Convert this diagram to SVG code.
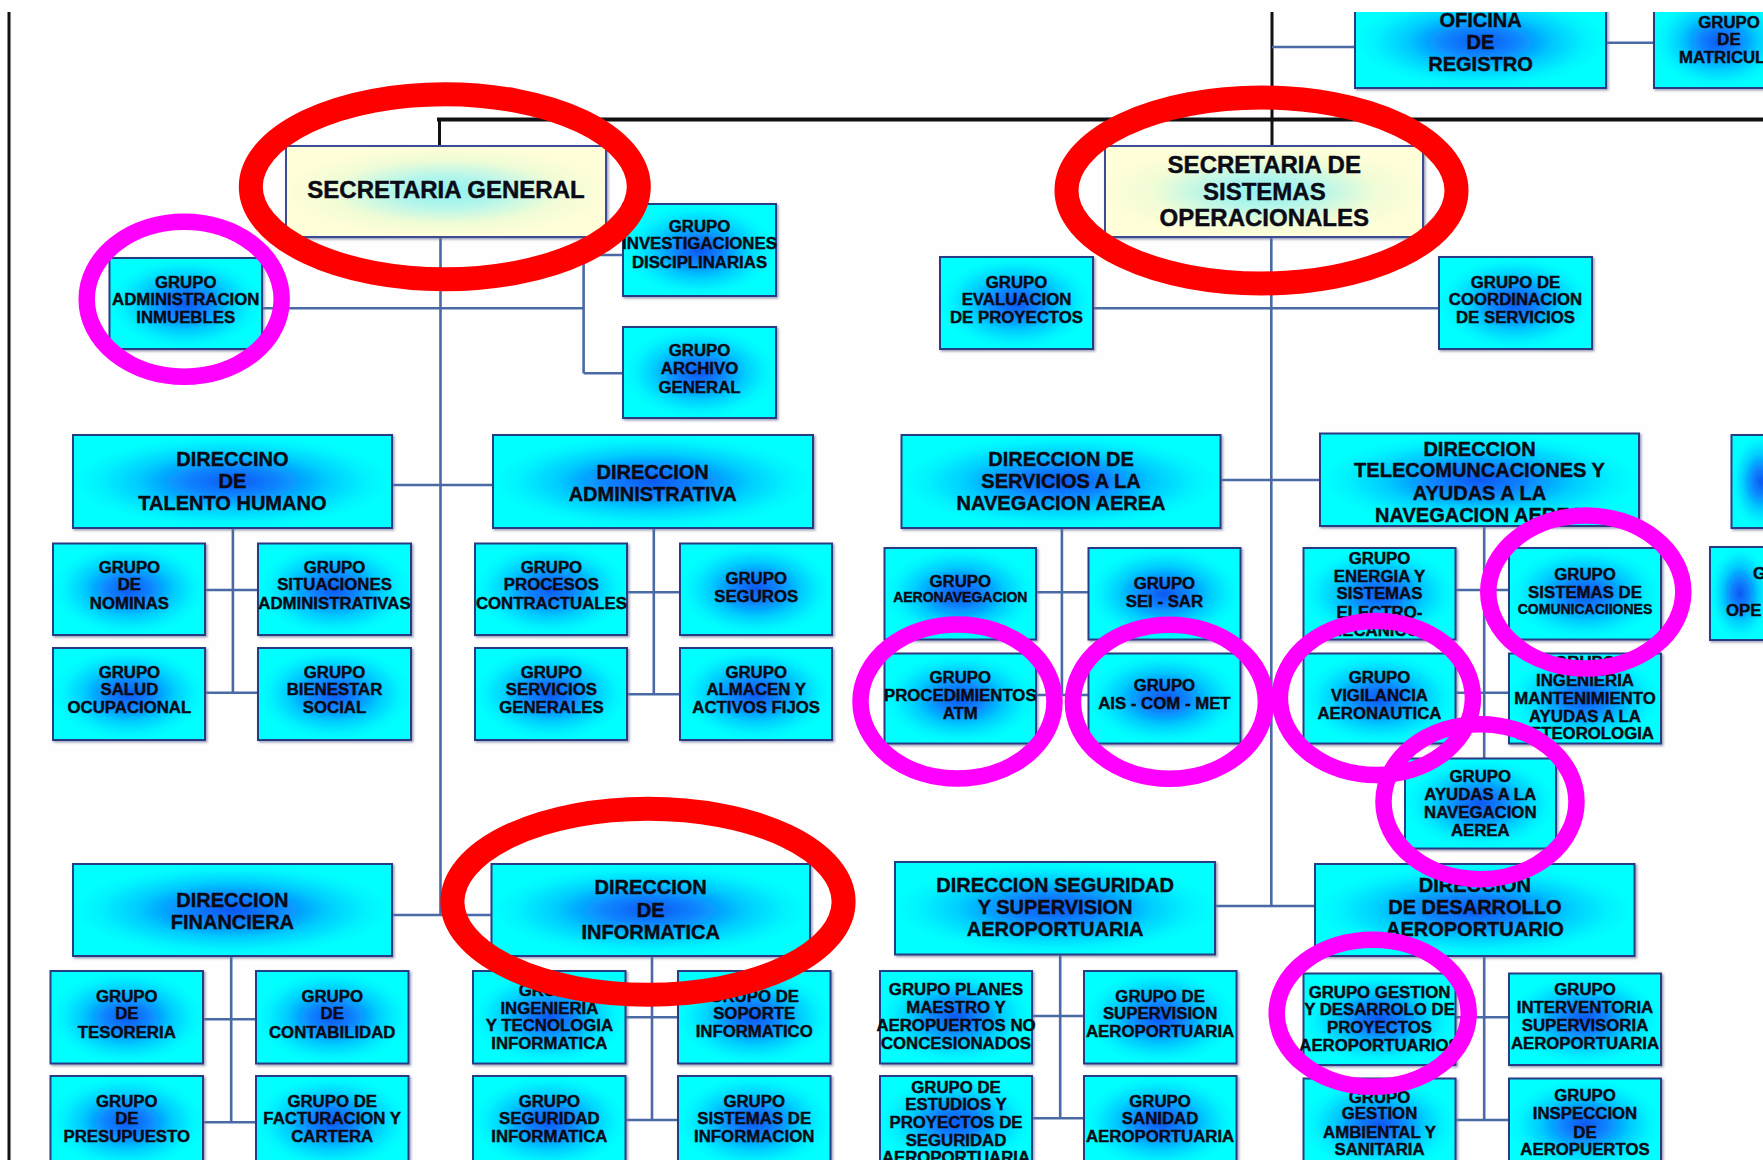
<svg xmlns="http://www.w3.org/2000/svg" width="1763" height="1160" viewBox="0 0 1763 1160">
<defs>
  <radialGradient id="cyan">
    <stop offset="0" stop-color="#0a58f2"/>
    <stop offset="0.3" stop-color="#0a86ff"/>
    <stop offset="0.6" stop-color="#00cdff"/>
    <stop offset="0.85" stop-color="#00f4ff"/>
    <stop offset="1" stop-color="#00ffff"/>
  </radialGradient>
  <radialGradient id="cream">
    <stop offset="0" stop-color="#8ef0f2"/>
    <stop offset="0.35" stop-color="#b6f6ea"/>
    <stop offset="0.7" stop-color="#effcd6"/>
    <stop offset="1" stop-color="#fffed8"/>
  </radialGradient>
  <filter id="sh" x="-5%" y="-5%" width="110%" height="110%">
    <feDropShadow dx="1.5" dy="1.5" stdDeviation="0.8" flood-color="#6f7398" flood-opacity="0.7"/>
  </filter>
  <style>
    .bx { fill: url(#cyan); stroke: #283c84; stroke-width: 2; filter: url(#sh); }
    .sec { fill: url(#cream); stroke: #3a4c96; stroke-width: 2; filter: url(#sh); }
    text { font-family: "Liberation Sans", Arial, sans-serif; font-weight: bold; fill: #0b0b16; stroke: #0b0b16; stroke-width: 0.45; text-anchor: middle; }
    .g { font-size: 16.8px; }
    .sm { font-size: 14px; }
    .d { font-size: 20px; }
    .s { font-size: 24px; }
    .st { text-anchor: start; }
    .ln { stroke: #4a6aa6; stroke-width: 2.6; fill: none; }
    .blk { stroke: #111; fill: none; }
    .red { fill: none; stroke: #ff0000; stroke-width: 24; }
    .mag { fill: none; stroke: #ff00ff; stroke-width: 16.5; }
  </style>
</defs>
<rect width="1763" height="1160" fill="#fefefe"/>

<!-- black hierarchy lines -->
<g id="top-lines" class="blk">
  <line x1="9" y1="12" x2="9" y2="1160" stroke-width="3"/>
  <line x1="437" y1="119.5" x2="1763" y2="119.5" stroke-width="4"/>
  <line x1="439.5" y1="119" x2="439.5" y2="146" stroke-width="3"/>
  <line x1="1272" y1="0" x2="1272" y2="146" stroke-width="3"/>
</g>

<!-- connectors -->
<g id="connectors" class="ln">
  <path d="M1272 47H1355M1606 42.7H1654"/>
  <path d="M440.5 237V915M262 308.3H583.6M583.6 255V373.3M583.6 255H623M583.6 373.3H623"/>
  <path d="M391.7 485H492.7M232.9 527.7V692.7M205.4 590H258.1M205.4 692.7H258.1"/>
  <path d="M653.8 527.7V694.3M627.4 592.3H680.1M627.4 694.3H680.1"/>
  <path d="M391.7 915H491.6M231.2 956V1122.3M203.1 1019.3H255.9M203.1 1122.3H255.9"/>
  <path d="M652 956V1120M625.7 1017.3H677.9M625.7 1120H677.9"/>
  <path d="M1271.3 237V906M1092.8 308.3H1439M1220.6 480H1319.8"/>
  <path d="M1061.9 527.7V695M1036 592.3H1088.3M1036 695H1088.3"/>
  <path d="M1484.2 526V758.3M1455.5 590H1509M1455.5 692.7H1509"/>
  <path d="M1215 906H1315.2M1060.2 954.3V1118.3M1032 1016H1083.8M1032 1118.3H1083.8"/>
  <path d="M1484.2 956V1120M1455.5 1017.3H1509M1455.5 1120H1509"/>
</g>

<!-- top row -->
<g id="oficina-registro">
  <rect class="bx" x="1355" y="-5" width="251" height="93"/>
  <text class="d"><tspan x="1480.5" y="27.2">OFICINA</tspan><tspan x="1480.5" y="48.9">DE</tspan><tspan x="1480.5" y="70.5">REGISTRO</tspan></text>
</g>
<g id="grupo-matricula">
  <rect class="bx" x="1654" y="-5" width="130" height="93"/>
  <text class="g"><tspan x="1729" y="27.6">GRUPO</tspan><tspan x="1729" y="44.9">DE</tspan></text>
  <text class="g st" x="1679" y="62.6">MATRICUL</text>
</g>

<!-- secretarias -->
<g id="secretaria-general">
  <rect class="sec" x="286" y="146" width="320" height="91"/>
  <text class="s" x="446" y="198.3">SECRETARIA GENERAL</text>
</g>
<g id="secretaria-sistemas">
  <rect class="sec" x="1105" y="146" width="318" height="91"/>
  <text class="s"><tspan x="1264.3" y="172.9">SECRETARIA DE</tspan><tspan x="1264.3" y="199.6">SISTEMAS</tspan><tspan x="1264.3" y="226.3">OPERACIONALES</tspan></text>
</g>

<g id="grupo-investigaciones">
  <rect class="bx" x="623" y="204" width="153" height="92"/>
  <text class="g"><tspan x="699.5" y="231.9">GRUPO</tspan><tspan x="699.5" y="249.2">INVESTIGACIONES</tspan><tspan x="699.5" y="267.6">DISCIPLINARIAS</tspan></text>
</g>
<g id="grupo-archivo">
  <rect class="bx" x="623" y="327" width="153" height="91"/>
  <text class="g"><tspan x="699.5" y="355.9">GRUPO</tspan><tspan x="699.5" y="374.2">ARCHIVO</tspan><tspan x="699.5" y="392.6">GENERAL</tspan></text>
</g>
<g id="grupo-inmuebles">
  <rect class="bx" x="109.5" y="258" width="152.5" height="91"/>
  <text class="g"><tspan x="185.7" y="287.6">GRUPO</tspan><tspan x="185.7" y="305.2">ADMINISTRACION</tspan><tspan x="185.7" y="323.2">INMUEBLES</tspan></text>
</g>
<g id="grupo-evaluacion">
  <rect class="bx" x="940" y="257" width="153" height="92"/>
  <text class="g"><tspan x="1016.5" y="287.6">GRUPO</tspan><tspan x="1016.5" y="305.2">EVALUACION</tspan><tspan x="1016.5" y="322.6">DE PROYECTOS</tspan></text>
</g>
<g id="grupo-coordinacion">
  <rect class="bx" x="1439" y="257" width="153" height="92"/>
  <text class="g"><tspan x="1515.5" y="287.6">GRUPO DE</tspan><tspan x="1515.5" y="305.2">COORDINACION</tspan><tspan x="1515.5" y="322.6">DE SERVICIOS</tspan></text>
</g>

<!-- direcciones row 1 -->
<g id="dir-talento-humano">
  <rect class="bx" x="73" y="435" width="319" height="93"/>
  <text class="d"><tspan x="232.4" y="465.5">DIRECCINO</tspan><tspan x="232.4" y="488.2">DE</tspan><tspan x="232.4" y="509.9">TALENTO HUMANO</tspan></text>
</g>
<g id="dir-administrativa">
  <rect class="bx" x="493" y="435" width="320" height="93"/>
  <text class="d"><tspan x="652.7" y="478.9">DIRECCION</tspan><tspan x="652.7" y="500.5">ADMINISTRATIVA</tspan></text>
</g>
<g id="dir-servicios-navegacion">
  <rect class="bx" x="901.5" y="435" width="319" height="93"/>
  <text class="d"><tspan x="1061" y="465.5">DIRECCION DE</tspan><tspan x="1061" y="488.2">SERVICIOS A LA</tspan><tspan x="1061" y="509.9">NAVEGACION AEREA</tspan></text>
</g>
<g id="dir-telecomunicaciones">
  <rect class="bx" x="1320" y="433.5" width="319" height="92.5"/>
  <text class="d"><tspan x="1479.5" y="455.5">DIRECCION</tspan><tspan x="1479.5" y="477.2">TELECOMUNCACIONES Y</tspan><tspan x="1479.5" y="499.9">AYUDAS A LA</tspan><tspan x="1479.5" y="522.2">NAVEGACION AEREA</tspan></text>
</g>
<g id="dir-derecha">
  <rect class="bx" x="1731.5" y="435" width="60" height="93"/>
</g>

<!-- talento humano groups -->
<g id="grupo-nominas">
  <rect class="bx" x="53" y="543.5" width="152" height="91.5"/>
  <text class="g"><tspan x="129.4" y="572.6">GRUPO</tspan><tspan x="129.4" y="590.2">DE</tspan><tspan x="129.4" y="608.6">NOMINAS</tspan></text>
</g>
<g id="grupo-situaciones">
  <rect class="bx" x="258" y="543.5" width="153" height="91.5"/>
  <text class="g"><tspan x="334.5" y="572.6">GRUPO</tspan><tspan x="334.5" y="590.2">SITUACIONES</tspan><tspan x="334.5" y="608.6">ADMINISTRATIVAS</tspan></text>
</g>
<g id="grupo-salud">
  <rect class="bx" x="53" y="648" width="152" height="92"/>
  <text class="g"><tspan x="129.4" y="677.6">GRUPO</tspan><tspan x="129.4" y="695.2">SALUD</tspan><tspan x="129.4" y="713.2">OCUPACIONAL</tspan></text>
</g>
<g id="grupo-bienestar">
  <rect class="bx" x="258" y="648" width="153" height="92"/>
  <text class="g"><tspan x="334.5" y="677.6">GRUPO</tspan><tspan x="334.5" y="695.2">BIENESTAR</tspan><tspan x="334.5" y="713.2">SOCIAL</tspan></text>
</g>

<!-- administrativa groups -->
<g id="grupo-procesos">
  <rect class="bx" x="475" y="543.5" width="152" height="91.5"/>
  <text class="g"><tspan x="551.4" y="572.6">GRUPO</tspan><tspan x="551.4" y="590.2">PROCESOS</tspan><tspan x="551.4" y="608.6">CONTRACTUALES</tspan></text>
</g>
<g id="grupo-seguros">
  <rect class="bx" x="680" y="543.5" width="152" height="91.5"/>
  <text class="g"><tspan x="756.2" y="584.2">GRUPO</tspan><tspan x="756.2" y="601.9">SEGUROS</tspan></text>
</g>
<g id="grupo-servicios-generales">
  <rect class="bx" x="475" y="648" width="152" height="92"/>
  <text class="g"><tspan x="551.4" y="677.6">GRUPO</tspan><tspan x="551.4" y="695.2">SERVICIOS</tspan><tspan x="551.4" y="713.2">GENERALES</tspan></text>
</g>
<g id="grupo-almacen">
  <rect class="bx" x="680" y="648" width="152" height="92"/>
  <text class="g"><tspan x="756.2" y="677.6">GRUPO</tspan><tspan x="756.2" y="695.2">ALMACEN Y</tspan><tspan x="756.2" y="713.2">ACTIVOS FIJOS</tspan></text>
</g>

<!-- navegacion groups -->
<g id="grupo-aeronavegacion">
  <rect class="bx" x="884.5" y="548" width="151.5" height="91.5"/>
  <text class="g" x="960.3" y="586.6">GRUPO</text>
  <text class="sm" x="960.3" y="601.7">AERONAVEGACION</text>
</g>
<g id="grupo-sei-sar">
  <rect class="bx" x="1088.5" y="548" width="152" height="91.5"/>
  <text class="g"><tspan x="1164.4" y="589.2">GRUPO</tspan><tspan x="1164.4" y="606.9">SEI - SAR</tspan></text>
</g>
<g id="grupo-procedimientos">
  <rect class="bx" x="884.5" y="653.5" width="151.5" height="90"/>
  <text class="g"><tspan x="960.3" y="682.6">GRUPO</tspan><tspan x="960.3" y="700.9">PROCEDIMIENTOS</tspan><tspan x="960.3" y="718.6">ATM</tspan></text>
</g>
<g id="grupo-ais">
  <rect class="bx" x="1088.5" y="653.5" width="152" height="90"/>
  <text class="g"><tspan x="1164.4" y="690.9">GRUPO</tspan><tspan x="1164.4" y="709.2">AIS - COM - MET</tspan></text>
</g>

<!-- telecomunicaciones groups -->
<g id="grupo-energia">
  <rect class="bx" x="1303.5" y="548" width="152" height="91.5"/>
  <text class="g"><tspan x="1379.5" y="563.6">GRUPO</tspan><tspan x="1379.5" y="581.6">ENERGIA Y</tspan><tspan x="1379.5" y="599.2">SISTEMAS</tspan><tspan x="1379.5" y="617.6">ELECTRO-</tspan><tspan x="1379.5" y="635.9">MECANICOS</tspan></text>
</g>
<g id="grupo-comunicaciones">
  <rect class="bx" x="1509" y="548" width="152" height="91.5"/>
  <text class="g"><tspan x="1585" y="579.9">GRUPO</tspan><tspan x="1585" y="597.6">SISTEMAS DE</tspan></text>
  <text class="sm" x="1585" y="613.5" font-size="14.5">COMUNICACIIONES</text>
</g>
<g id="grupo-vigilancia">
  <rect class="bx" x="1303.5" y="653.5" width="152" height="90"/>
  <text class="g"><tspan x="1379.5" y="682.6">GRUPO</tspan><tspan x="1379.5" y="700.9">VIGILANCIA</tspan><tspan x="1379.5" y="718.6">AERONAUTICA</tspan></text>
</g>
<g id="grupo-ingenieria-mantenimiento">
  <rect class="bx" x="1509" y="653.5" width="152" height="90"/>
  <text class="g"><tspan x="1585" y="667.6">GRUPO</tspan><tspan x="1585" y="685.9">INGENIERIA</tspan><tspan x="1585" y="703.6">MANTENIMIENTO</tspan><tspan x="1585" y="721.9">AYUDAS A LA</tspan><tspan x="1585" y="739.2">METEOROLOGIA</tspan></text>
</g>
<g id="grupo-derecha">
  <rect class="bx" x="1710" y="547" width="60" height="93"/>
  <text class="g st" x="1753" y="579.2">G</text>
  <text class="g st" x="1726" y="615.9">OPE</text>
</g>
<g id="grupo-ayudas">
  <rect class="bx" x="1405" y="758.5" width="151" height="90"/>
  <text class="g"><tspan x="1480.3" y="781.9">GRUPO</tspan><tspan x="1480.3" y="799.9">AYUDAS A LA</tspan><tspan x="1480.3" y="817.9">NAVEGACION</tspan><tspan x="1480.3" y="835.9">AEREA</tspan></text>
</g>

<!-- direcciones row 2 -->
<g id="dir-financiera">
  <rect class="bx" x="73" y="864" width="319" height="92"/>
  <text class="d"><tspan x="232.4" y="907.2">DIRECCION</tspan><tspan x="232.4" y="928.9">FINANCIERA</tspan></text>
</g>
<g id="dir-informatica">
  <rect class="bx" x="491.5" y="864" width="318.5" height="92"/>
  <text class="d"><tspan x="650.7" y="893.9">DIRECCION</tspan><tspan x="650.7" y="917.2">DE</tspan><tspan x="650.7" y="938.9">INFORMATICA</tspan></text>
</g>
<g id="dir-seguridad-supervision">
  <rect class="bx" x="895" y="862" width="320" height="92.5"/>
  <text class="d"><tspan x="1055.1" y="892.2">DIRECCION SEGURIDAD</tspan><tspan x="1055.1" y="913.9">Y SUPERVISION</tspan><tspan x="1055.1" y="935.5">AEROPORTUARIA</tspan></text>
</g>
<g id="dir-desarrollo">
  <rect class="bx" x="1315" y="864" width="319.5" height="92"/>
  <text class="d"><tspan x="1474.9" y="892.2">DIRECCION</tspan><tspan x="1474.9" y="913.9">DE DESARROLLO</tspan><tspan x="1474.9" y="935.5">AEROPORTUARIO</tspan></text>
</g>

<!-- financiera groups -->
<g id="grupo-tesoreria">
  <rect class="bx" x="50.5" y="971" width="152.5" height="92.5"/>
  <text class="g"><tspan x="126.8" y="1001.9">GRUPO</tspan><tspan x="126.8" y="1019.2">DE</tspan><tspan x="126.8" y="1037.6">TESORERIA</tspan></text>
</g>
<g id="grupo-contabilidad">
  <rect class="bx" x="256" y="971" width="152.5" height="92.5"/>
  <text class="g"><tspan x="332.2" y="1001.9">GRUPO</tspan><tspan x="332.2" y="1019.2">DE</tspan><tspan x="332.2" y="1037.6">CONTABILIDAD</tspan></text>
</g>
<g id="grupo-presupuesto">
  <rect class="bx" x="50.5" y="1076" width="152.5" height="92"/>
  <text class="g"><tspan x="126.8" y="1106.6">GRUPO</tspan><tspan x="126.8" y="1124.2">DE</tspan><tspan x="126.8" y="1141.9">PRESUPUESTO</tspan></text>
</g>
<g id="grupo-facturacion">
  <rect class="bx" x="256" y="1076" width="152.5" height="92"/>
  <text class="g"><tspan x="332.2" y="1106.6">GRUPO DE</tspan><tspan x="332.2" y="1124.2">FACTURACION Y</tspan><tspan x="332.2" y="1141.9">CARTERA</tspan></text>
</g>

<!-- informatica groups -->
<g id="grupo-ingenieria-tecnologia">
  <rect class="bx" x="473" y="971" width="152.5" height="92.5"/>
  <text class="g"><tspan x="549.4" y="995.9">GRUPO</tspan><tspan x="549.4" y="1013.6">INGENIERIA</tspan><tspan x="549.4" y="1030.9">Y TECNOLOGIA</tspan><tspan x="549.4" y="1048.6">INFORMATICA</tspan></text>
</g>
<g id="grupo-soporte">
  <rect class="bx" x="678" y="971" width="152.5" height="92.5"/>
  <text class="g"><tspan x="754.2" y="1001.9">GRUPO DE</tspan><tspan x="754.2" y="1019.2">SOPORTE</tspan><tspan x="754.2" y="1036.6">INFORMATICO</tspan></text>
</g>
<g id="grupo-seguridad-informatica">
  <rect class="bx" x="473" y="1076" width="152.5" height="92"/>
  <text class="g"><tspan x="549.4" y="1106.6">GRUPO</tspan><tspan x="549.4" y="1124.2">SEGURIDAD</tspan><tspan x="549.4" y="1141.9">INFORMATICA</tspan></text>
</g>
<g id="grupo-sistemas-informacion">
  <rect class="bx" x="678" y="1076" width="152.5" height="92"/>
  <text class="g"><tspan x="754.2" y="1106.6">GRUPO</tspan><tspan x="754.2" y="1124.2">SISTEMAS DE</tspan><tspan x="754.2" y="1141.9">INFORMACION</tspan></text>
</g>

<!-- seguridad y supervision groups -->
<g id="grupo-planes">
  <rect class="bx" x="880" y="971" width="152" height="92.5"/>
  <text class="g"><tspan x="956" y="995.2">GRUPO PLANES</tspan><tspan x="956" y="1013.2">MAESTRO Y</tspan><tspan x="956" y="1030.9">AEROPUERTOS NO</tspan><tspan x="956" y="1049.2">CONCESIONADOS</tspan></text>
</g>
<g id="grupo-supervision">
  <rect class="bx" x="1084" y="971" width="152.5" height="92.5"/>
  <text class="g"><tspan x="1160.1" y="1001.9">GRUPO DE</tspan><tspan x="1160.1" y="1019.2">SUPERVISION</tspan><tspan x="1160.1" y="1036.6">AEROPORTUARIA</tspan></text>
</g>
<g id="grupo-estudios">
  <rect class="bx" x="880" y="1076" width="152" height="92"/>
  <text class="g"><tspan x="956" y="1092.6">GRUPO DE</tspan><tspan x="956" y="1109.9">ESTUDIOS Y</tspan><tspan x="956" y="1128.2">PROYECTOS DE</tspan><tspan x="956" y="1145.9">SEGURIDAD</tspan><tspan x="956" y="1162.6">AEROPORTUARIA</tspan></text>
</g>
<g id="grupo-sanidad">
  <rect class="bx" x="1084" y="1076" width="152.5" height="92"/>
  <text class="g"><tspan x="1160.1" y="1106.6">GRUPO</tspan><tspan x="1160.1" y="1124.2">SANIDAD</tspan><tspan x="1160.1" y="1141.9">AEROPORTUARIA</tspan></text>
</g>

<!-- desarrollo groups -->
<g id="grupo-gestion-desarrollo">
  <rect class="bx" x="1303.5" y="973.5" width="152" height="91.5"/>
  <text class="g"><tspan x="1379.5" y="997.6">GRUPO GESTION</tspan><tspan x="1379.5" y="1015.2">Y DESARROLO DE</tspan><tspan x="1379.5" y="1032.6">PROYECTOS</tspan><tspan x="1379.5" y="1050.9">AEROPORTUARIOS</tspan></text>
</g>
<g id="grupo-interventoria">
  <rect class="bx" x="1509" y="973.5" width="152" height="91.5"/>
  <text class="g"><tspan x="1585" y="995.2">GRUPO</tspan><tspan x="1585" y="1013.2">INTERVENTORIA</tspan><tspan x="1585" y="1030.9">SUPERVISORIA</tspan><tspan x="1585" y="1049.2">AEROPORTUARIA</tspan></text>
</g>
<g id="grupo-gestion-ambiental">
  <rect class="bx" x="1303.5" y="1078.5" width="152" height="92"/>
  <text class="g"><tspan x="1379.5" y="1102.6">GRUPO</tspan><tspan x="1379.5" y="1119.2">GESTION</tspan><tspan x="1379.5" y="1137.6">AMBIENTAL Y</tspan><tspan x="1379.5" y="1155.2">SANITARIA</tspan></text>
</g>
<g id="grupo-inspeccion">
  <rect class="bx" x="1509" y="1078.5" width="152" height="92"/>
  <text class="g"><tspan x="1585" y="1100.9">GRUPO</tspan><tspan x="1585" y="1119.2">INSPECCION</tspan><tspan x="1585" y="1137.6">DE</tspan><tspan x="1585" y="1155.2">AEROPUERTOS</tspan></text>
</g>

<!-- highlight marks -->
<g id="marks-red">
  <ellipse class="red" cx="444.8" cy="186.7" rx="194" ry="92.5"/>
  <ellipse class="red" cx="1261.5" cy="190.5" rx="195" ry="93"/>
  <ellipse class="red" cx="648" cy="901.7" rx="195.6" ry="93"/>
</g>
<g id="marks-magenta">
  <ellipse class="mag" cx="184.2" cy="299.2" rx="97.5" ry="77.5"/>
  <ellipse class="mag" cx="957.5" cy="701.5" rx="97" ry="77"/>
  <ellipse class="mag" cx="1169.4" cy="701.7" rx="96.5" ry="77"/>
  <ellipse class="mag" cx="1376.4" cy="698" rx="96.5" ry="77"/>
  <ellipse class="mag" cx="1585.8" cy="592" rx="97.5" ry="76.5"/>
  <ellipse class="mag" cx="1480" cy="801.7" rx="96.5" ry="77.5"/>
  <ellipse class="mag" cx="1372.7" cy="1013.3" rx="96" ry="73.5"/>
</g>

<!-- page top margin -->
<rect width="1763" height="12" fill="#fefefe"/>
</svg>
